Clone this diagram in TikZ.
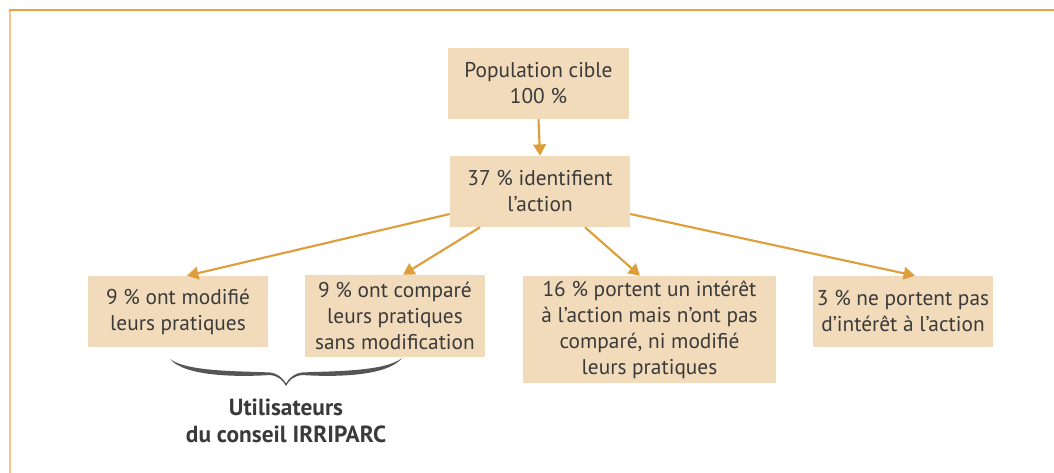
\documentclass[tikz,border=0pt]{standalone}
\usepackage{fontspec}
\setmainfont{PT Sans}
\usetikzlibrary{arrows.meta,calc}
\definecolor{boxfill}{HTML}{F2DBBB}
\definecolor{arrcol}{HTML}{DF9E3C}
\definecolor{frametop}{HTML}{F0A040}
\definecolor{frameleft}{HTML}{F5C48A}
\definecolor{txt}{HTML}{3A3A3A}
\definecolor{bracecol}{HTML}{555555}
\tikzset{
  stepbox/.style={rectangle, fill=boxfill, text=txt, align=center, inner sep=0pt,
    font=\fontsize{16}{19.5}\selectfont},
  arr/.style={draw=arrcol, line width=1.6pt, -{Triangle[length=8.5pt,width=9.5pt]}},
}
\begin{document}
\begin{tikzpicture}[x=0.75pt,y=-0.75pt]
\useasboundingbox (0,0) rectangle (1054,473);
\fill[white] (0,0) rectangle (1054,473);
\draw[frameleft, line width=1.5pt] (10,10.5) -- (10,473);
\draw[frametop, line width=1.5pt] (9,10.5) -- (1054,10.5);

\node[stepbox, minimum width=135.75pt, minimum height=53.25pt] (b1) at (538.5,83.5) {Population cible\\100 \%};
\node[stepbox, minimum width=135pt, minimum height=53.25pt] (b2) at (540,191.5) {37 \% identifient\\l’action};
\node[stepbox, minimum width=135pt, minimum height=53.25pt] (b3) at (178,311.5) {9 \% ont modifié\\leurs pratiques};
\node[stepbox, minimum width=135pt, minimum height=61.5pt] (b4) at (395,316) {9 \% ont comparé\\leurs pratiques\\sans modification};
\node[stepbox, minimum width=189.75pt, minimum height=80.25pt] (b5) at (649.5,329.5) {16 \% portent un intérêt\\à l’action mais n’ont pas\\comparé, ni modifié\\leurs pratiques};
\node[stepbox, minimum width=135pt, minimum height=53.25pt] (b6) at (903,311.5) {3 \% ne portent pas\\d’intérêt à l’action};

\draw[arr] (b1.south) -- (b2.north);
\draw[arr] (b2.194.6) -- ($(b3.north)+(9,0)$);
\draw[arr] ($(b2.south)+(-60,0)$) -- ($(b4.north)+(8,0)$);
\draw[arr] ($(b2.south)+(45,0)$) -- ($(b5.north)+(-9.5,0)$);
\draw[arr] (b2.346) -- ($(b6.north)+(12,0)$);

\fill[bracecol] (170,359) .. controls (185,377) and (240,377) .. (270,375)
  .. controls (278,376) and (283,380) .. (286,386)
  .. controls (289,380) and (294,376) .. (302,375)
  .. controls (332,377) and (387,377) .. (402,358)
  .. controls (385,372) and (330,371) .. (302,372.5)
  .. controls (295,373) and (289,378) .. (286,383.5)
  .. controls (283,378) and (277,373) .. (270,372.5)
  .. controls (240,371) and (187,372) .. (170,359) -- cycle;
\node[text=txt, align=center, font=\fontsize{17.5}{20.5}\selectfont\bfseries] (users) at (286,421) {Utilisateurs\\du conseil IRRIPARC};
\end{tikzpicture}
\end{document}
